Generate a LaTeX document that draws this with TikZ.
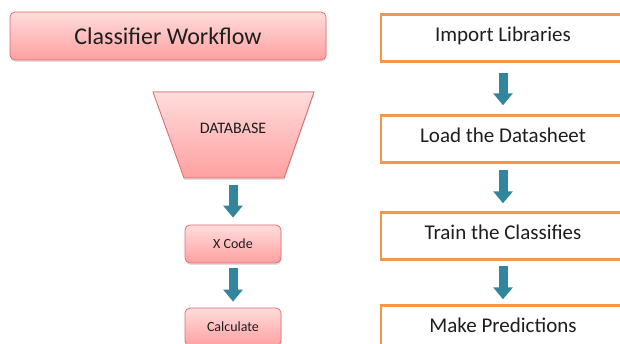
\documentclass[tikz,border=0pt]{standalone}
\usepackage{fontspec}
\setmainfont{Carlito}
\usetikzlibrary{arrows.meta,shadows}
\definecolor{pinkT}{RGB}{255,220,220}
\definecolor{pinkB}{RGB}{255,160,160}
\definecolor{pinkD}{RGB}{222,112,112}
\definecolor{tealA}{RGB}{49,133,156}
\definecolor{orangeB}{RGB}{247,150,70}
\definecolor{textC}{RGB}{30,30,30}
\begin{document}
\begin{tikzpicture}[x=1pt,y=-1pt,
  pinkfill/.style={draw=pinkD, line width=0.8pt, top color=pinkT, bottom color=pinkB,
    drop shadow={opacity=0.25,shadow xshift=0.5pt,shadow yshift=-2pt}},
  pinkbox/.style={pinkfill, rounded corners=5pt, inner sep=0pt, text=textC},
  stepbox/.style={draw=orangeB, line width=2.4pt, fill=white, minimum width=244pt,
    minimum height=47pt, inner sep=0pt, text height=14pt, text depth=7pt,
    font=\fontsize{21}{25}\selectfont, text=textC},
  flow/.style={draw=tealA, line width=9pt, -{Triangle[width=19pt,length=12pt]}}
]
\useasboundingbox (0,0) rectangle (620,344);
\clip (0,0) rectangle (620,344);
% left column
\node[pinkbox, minimum width=316pt, minimum height=48pt, font=\fontsize{24}{28}\selectfont] (title) at (168,36) {Classifier Workflow};
\filldraw[pinkfill] (153,92) -- (314,92) -- (284,178) -- (184,178) -- cycle;
\node[text=textC, font=\fontsize{16}{19}\selectfont] (db) at (233,128) {DATABASE};
\coordinate (dbb) at (233,178);
\node[pinkbox, minimum width=96pt, minimum height=38pt, font=\fontsize{14}{17}\selectfont] (xc) at (233,244) {X Code};
\node[pinkbox, minimum width=96pt, minimum height=38pt, font=\fontsize{14}{17}\selectfont] (calc) at (233,327) {Calculate};
\draw[flow, shorten <=7pt, shorten >=7pt] (dbb) -- (xc.north);
\draw[flow, shorten <=5pt, shorten >=6pt] (xc.south) -- (calc.north);
% right column
\node[stepbox] (imp) at (503,38) {Import Libraries};
\node[stepbox] (load) at (503,139) {Load the Datasheet};
\node[stepbox] (train) at (503,236) {Train the Classifies};
\node[stepbox] (pred) at (503,329) {Make Predictions};
\draw[flow, shorten <=10pt, shorten >=9pt] (imp.south) -- (load.north);
\draw[flow, shorten <=6pt, shorten >=8pt] (load.south) -- (train.north);
\draw[flow, shorten <=5pt, shorten >=5pt] (train.south) -- (pred.north);
\end{tikzpicture}
\end{document}
